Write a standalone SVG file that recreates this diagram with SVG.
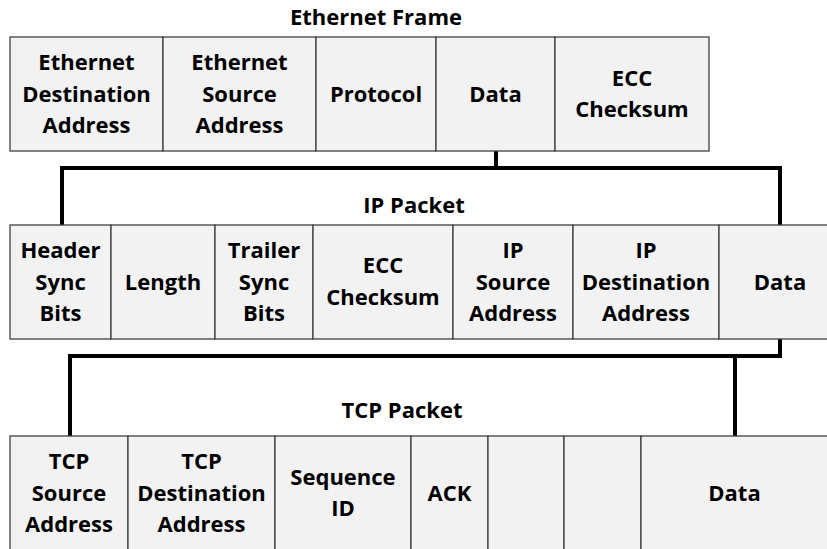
<svg xmlns="http://www.w3.org/2000/svg" width="827" height="549" viewBox="0 0 827 549">
<style>
.cell{fill:#f2f2f2;stroke:#404040;stroke-width:1.3}
text{font-family:"Open Sans","DejaVu Sans",sans-serif;font-weight:bold;font-size:22px;fill:#000;text-anchor:middle}
.conn{fill:none;stroke:#000;stroke-width:4;stroke-linejoin:miter;stroke-linecap:butt}
</style>
<rect width="827" height="549" fill="#fff"/>
<g id="titles">
<text x="376" y="25">Ethernet Frame</text>
<text x="414" y="213">IP Packet</text>
<text x="402" y="418">TCP Packet</text>
</g>
<g id="connectors">
<path class="conn" d="M496,151 V168"/>
<path class="conn" d="M62,225 V168 H780 V225"/>
<path class="conn" d="M780,339 V356 H70 V436"/>
<path class="conn" d="M735,356 V436"/>
</g>
<g id="eth-dst"><rect class="cell" x="10" y="37" width="153" height="114"/><text x="86.5" y="70">Ethernet</text><text x="86.5" y="101.5">Destination</text><text x="86.5" y="133">Address</text></g>
<g id="eth-src"><rect class="cell" x="163" y="37" width="153" height="114"/><text x="239.5" y="70">Ethernet</text><text x="239.5" y="101.5">Source</text><text x="239.5" y="133">Address</text></g>
<g id="eth-proto"><rect class="cell" x="316" y="37" width="120" height="114"/><text x="376" y="101.5">Protocol</text></g>
<g id="eth-data"><rect class="cell" x="436" y="37" width="119" height="114"/><text x="495.5" y="101.5">Data</text></g>
<g id="eth-ecc"><rect class="cell" x="555" y="37" width="154" height="114"/><text x="632" y="86">ECC</text><text x="632" y="117">Checksum</text></g>
<g id="ip-hsync"><rect class="cell" x="10" y="225" width="101" height="114"/><text x="60.5" y="258">Header</text><text x="60.5" y="290">Sync</text><text x="60.5" y="321">Bits</text></g>
<g id="ip-len"><rect class="cell" x="111" y="225" width="104" height="114"/><text x="163" y="290">Length</text></g>
<g id="ip-tsync"><rect class="cell" x="215" y="225" width="98" height="114"/><text x="264" y="258">Trailer</text><text x="264" y="290">Sync</text><text x="264" y="321">Bits</text></g>
<g id="ip-ecc"><rect class="cell" x="313" y="225" width="140" height="114"/><text x="383" y="273">ECC</text><text x="383" y="305">Checksum</text></g>
<g id="ip-src"><rect class="cell" x="453" y="225" width="120" height="114"/><text x="513" y="258">IP</text><text x="513" y="290">Source</text><text x="513" y="321">Address</text></g>
<g id="ip-dst"><rect class="cell" x="573" y="225" width="146" height="114"/><text x="646" y="258">IP</text><text x="646" y="290">Destination</text><text x="646" y="321">Address</text></g>
<g id="ip-data"><rect class="cell" x="719" y="225" width="122" height="114"/><text x="780" y="290">Data</text></g>
<g id="tcp-src"><rect class="cell" x="10" y="436" width="118" height="130"/><text x="69" y="469">TCP</text><text x="69" y="501">Source</text><text x="69" y="532">Address</text></g>
<g id="tcp-dst"><rect class="cell" x="128" y="436" width="147" height="130"/><text x="201.5" y="469">TCP</text><text x="201.5" y="501">Destination</text><text x="201.5" y="532">Address</text></g>
<g id="tcp-seq"><rect class="cell" x="275" y="436" width="136" height="130"/><text x="343" y="485">Sequence</text><text x="343" y="516">ID</text></g>
<g id="tcp-ack"><rect class="cell" x="411" y="436" width="77" height="130"/><text x="449.5" y="501">ACK</text></g>
<g id="tcp-f1"><rect class="cell" x="488" y="436" width="76" height="130"/></g>
<g id="tcp-f2"><rect class="cell" x="564" y="436" width="77" height="130"/></g>
<g id="tcp-data"><rect class="cell" x="641" y="436" width="188" height="130"/><text x="734.5" y="501">Data</text></g>
</svg>
